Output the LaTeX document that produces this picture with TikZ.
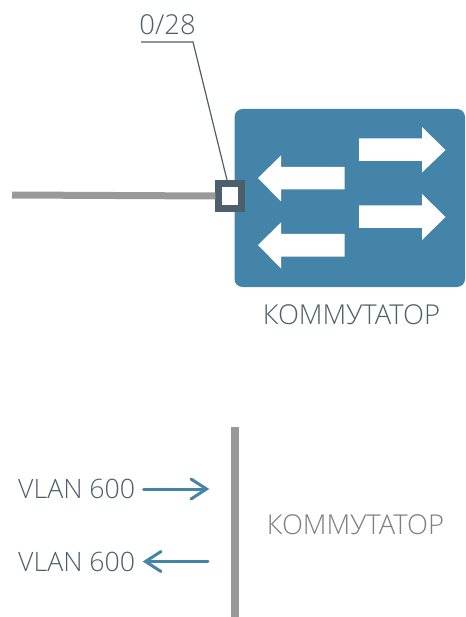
\documentclass[tikz,border=0pt]{standalone}
\usepackage{fontspec}
\setmainfont{Open Sans Light}
\definecolor{swblue}{HTML}{4484A8}
\definecolor{slate}{HTML}{4C5F6B}
\definecolor{bargray}{HTML}{999999}
\definecolor{lblgray}{HTML}{7F7F7F}
\tikzset{
  x=1pt,y=-1pt,
  lbl/.style={inner sep=0pt,font=\fontsize{27.4}{29}\selectfont,text=slate},
  vlbl/.style={lbl,font=\fontsize{26.7}{29}\selectfont},
  flow/.style={draw=swblue,line width=3pt,line cap=round,line join=miter},
  bigarrow/.style={fill=white,draw=none},
}
\begin{document}
\begin{tikzpicture}
\useasboundingbox (0,0) rectangle (465,617);
\fill[swblue,rounded corners=8pt] (234.5,109) rectangle (465,287);
\fill[bigarrow] (359,138.5)--(422,138.5)--(422,127)--(445.5,150)--(422,172.5)--(422,161)--(359,161)--cycle;
\fill[bigarrow] (359,205.5)--(422,205.5)--(422,194)--(445.5,217)--(422,240)--(422,228)--(359,228)--cycle;
\fill[bigarrow] (344.5,167)--(281,167)--(281,155.5)--(258,178)--(281,201.5)--(281,189.5)--(344.5,189.5)--cycle;
\fill[bigarrow] (344.5,234)--(281,234)--(281,222.5)--(258,245)--(281,268.5)--(281,256.5)--(344.5,256.5)--cycle;
\coordinate (lineend) at (12,195);
\node[draw=slate,line width=7pt,fill=white,minimum width=23pt,minimum height=25pt,inner sep=0pt,anchor=center] (port) at (230.3,196) {};
\draw[bargray,line width=7pt] (lineend) -- (port.west);
\node[lbl,anchor=base] (portlbl) at (167.5,35) {0/28};
\coordinate (ul) at (141,42);
\coordinate (uk) at (193,42);
\coordinate (pt) at (227,180);
\draw[slate,line width=1.2pt] (ul) -- (uk) -- (pt);
\node[lbl,anchor=center] (sw) at (351.5,315) {КОММУТАТОР};
\coordinate (bart) at (234.8,427);
\coordinate (barb) at (234.8,617);
\draw[bargray,line width=7.5pt] (bart) -- (barb);
\node[vlbl,anchor=west] (v1) at (18,489) {VLAN 600};
\node[vlbl,anchor=west] (v2) at (18,562) {VLAN 600};
\coordinate (a1) at (206,489);
\coordinate (a2) at (208,561.5);
\draw[flow] (143.5,489) -- (a1);
\draw[flow] (191,479) -- (206.5,489) -- (191,499);
\draw[flow] (a2) -- (146,561.5);
\draw[flow] (161,551.5) -- (145.5,561.5) -- (161,571.5);
\node[lbl,text=lblgray,anchor=center] (sw2) at (355.5,525) {КОММУТАТОР};
\end{tikzpicture}
\end{document}
